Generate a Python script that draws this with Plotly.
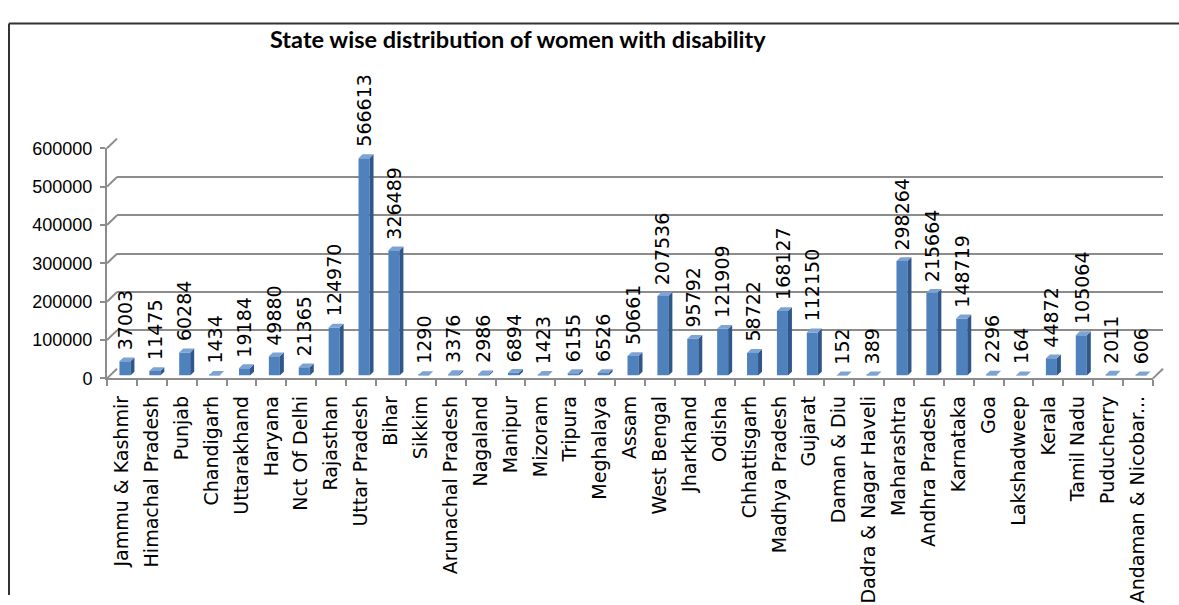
import plotly.graph_objects as go

# ---------------- data ----------------
states = [
    "Jammu & Kashmir", "Himachal Pradesh", "Punjab", "Chandigarh", "Uttarakhand",
    "Haryana", "Nct Of Delhi", "Rajasthan", "Uttar Pradesh", "Bihar", "Sikkim",
    "Arunachal Pradesh", "Nagaland", "Manipur", "Mizoram", "Tripura", "Meghalaya",
    "Assam", "West Bengal", "Jharkhand", "Odisha", "Chhattisgarh", "Madhya Pradesh",
    "Gujarat", "Daman & Diu", "Dadra & Nagar Haveli", "Maharashtra", "Andhra Pradesh",
    "Karnataka", "Goa", "Lakshadweep", "Kerala", "Tamil Nadu", "Puducherry",
    "Andaman & Nicobar...",
]
women = [
    37003, 11475, 60284, 1434, 19184, 49880, 21365, 124970, 566613, 326489, 1290,
    3376, 2986, 6894, 1423, 6155, 6526, 50661, 207536, 95792, 121909, 58722, 168127,
    112150, 152, 389, 298264, 215664, 148719, 2296, 164, 44872, 105064, 2011, 606,
]
y_ticks = [0, 100000, 200000, 300000, 400000, 500000, 600000]
title_text = "State wise distribution of women with disability"

# ---------------- geometry (pixels) ----------------
W, H = 1179, 605
FX0, FX1 = 107, 1153          # front plane x extent
FY0, FY1 = 381, 143           # front plane y for 0 and y max
DX, DY = 10, -10              # depth offset front -> back wall
BX, BY = 3, -3                # bar front face plane offset
SX, SY = 4, -4                # bar side/top depth
BAR_W_PX = 11

YMAX = y_ticks[-1]
n = len(states)
cat_px = (FX1 - FX0) / n
y_px = (FY0 - FY1) / YMAX


def dom_x(off):
    return [(FX0 + off) / W, (FX1 + off) / W]


def dom_y(off):
    return [(H - (FY0 + off)) / H, (H - (FY1 + off)) / H]


FRONT = "#4F81BD"
SIDE = "#30578A"
TOP = "#7DA3D4"
GRID = "#8C8C8C"

fig = go.Figure()

# front axes (tick labels) - invisible carrier trace
fig.add_trace(go.Scatter(x=states, y=women, mode="markers", marker=dict(opacity=0),
                         hoverinfo="skip", showlegend=False, xaxis="x", yaxis="y"))
# back wall axes carrier
fig.add_trace(go.Scatter(x=list(range(n)), y=women, mode="markers", marker=dict(opacity=0),
                         hoverinfo="skip", showlegend=False, xaxis="x2", yaxis="y2"))

# bar front faces
idx = list(range(n))
bw = BAR_W_PX / cat_px
fig.add_trace(go.Bar(x=idx, y=women, width=bw, marker=dict(color=FRONT, line=dict(width=0)),
                     showlegend=False, xaxis="x3", yaxis="y3", hoverinfo="x+y"))

# side and top faces built from the data
ddx = SX / cat_px
ddy = -SY / y_px
side_x, side_y, top_x, top_y = [], [], [], []
for i, v in zip(idx, women):
    xl, xr = i - bw / 2, i + bw / 2
    side_x += [xr, xr + ddx, xr + ddx, xr, xr, None]
    side_y += [0, ddy, v + ddy, v, 0, None]
    top_x += [xl, xl + ddx, xr + ddx, xr, xl, None]
    top_y += [v, v + ddy, v + ddy, v, v, None]
fig.add_trace(go.Scatter(x=side_x, y=side_y, mode="lines", fill="toself", fillcolor=SIDE,
                         line=dict(width=0, color=SIDE), hoverinfo="skip", showlegend=False,
                         xaxis="x3", yaxis="y3"))
fig.add_trace(go.Scatter(x=top_x, y=top_y, mode="lines", fill="toself", fillcolor=TOP,
                         line=dict(width=0, color=TOP), hoverinfo="skip", showlegend=False,
                         xaxis="x3", yaxis="y3"))

# data labels
annotations = []
for i, v in zip(idx, women):
    annotations.append(dict(x=i, y=v, xref="x3", yref="y3", text=str(v), showarrow=False,
                            textangle=-90, xanchor="center", yanchor="bottom", yshift=9,
                            font=dict(family="DejaVu Sans", size=19, color="black")))
annotations.append(dict(x=518 / W, y=(H - 30) / H, xref="paper", yref="paper",
                        text=title_text, showarrow=False, xanchor="center", yanchor="middle",
                        font=dict(family="Lato", size=23.5, color="black", weight="bold")))

# shapes: border, left wall diagonals, floor
shapes = []
shapes.append(dict(type="line", xref="paper", yref="paper", x0=9 / W, x1=1.0, y0=(H - 14) / H,
                   y1=(H - 14) / H, line=dict(color="#333333", width=2)))
shapes.append(dict(type="line", xref="paper", yref="paper", x0=9 / W, x1=9 / W, y0=(H - 14) / H,
                   y1=0, line=dict(color="#333333", width=2)))
for t in y_ticks:
    py = FY0 - t * y_px
    shapes.append(dict(type="line", xref="paper", yref="paper", x0=FX0 / W, y0=(H - py) / H,
                       x1=(FX0 + DX) / W, y1=(H - (py + DY)) / H, line=dict(color=GRID, width=2)))
# floor right edge
shapes.append(dict(type="line", xref="paper", yref="paper", x0=FX1 / W, y0=(H - FY0) / H,
                   x1=(FX1 + DX) / W, y1=(H - (FY0 + DY)) / H, line=dict(color=GRID, width=2)))

fig.update_layout(
    width=W, height=H,
    margin=dict(l=0, r=0, t=0, b=0),
    paper_bgcolor="white", plot_bgcolor="rgba(0,0,0,0)",
    barmode="overlay",
    showlegend=False,
    annotations=annotations,
    shapes=shapes,
    xaxis=dict(domain=dom_x(0), anchor="y", type="category", categoryorder="array",
               categoryarray=states, tickson="boundaries", ticks="outside", ticklen=6,
               tickcolor=GRID, tickwidth=2, showline=True, linecolor=GRID, linewidth=2,
               showgrid=False, tickangle=-90, ticklabelstandoff=8,
               tickfont=dict(family="DejaVu Sans", size=19, color="black"),
               range=[-0.5, n - 0.5], fixedrange=True),
    yaxis=dict(domain=dom_y(0), anchor="x", range=[0, YMAX], tickvals=y_ticks,
               ticktext=[str(t) for t in y_ticks], ticks="outside", ticklen=5,
               tickcolor=GRID, tickwidth=2, showline=True, linecolor=GRID, linewidth=2,
               showgrid=False, zeroline=False, ticklabelstandoff=4,
               tickfont=dict(family="Liberation Sans", size=18, color="black")),
    xaxis2=dict(domain=dom_x(DX), anchor="y2", range=[-0.5, n - 0.5], visible=False),
    yaxis2=dict(domain=dom_y(DY), anchor="x2", range=[0, YMAX], tickvals=y_ticks,
                showgrid=True, gridcolor=GRID, gridwidth=2, showticklabels=False,
                zeroline=False, ticks=""),
    xaxis3=dict(domain=dom_x(BX), anchor="y3", range=[-0.5, n - 0.5], visible=False),
    yaxis3=dict(domain=dom_y(BY), anchor="x3", range=[0, YMAX], visible=False),
)

fig.write_html("out.html")
